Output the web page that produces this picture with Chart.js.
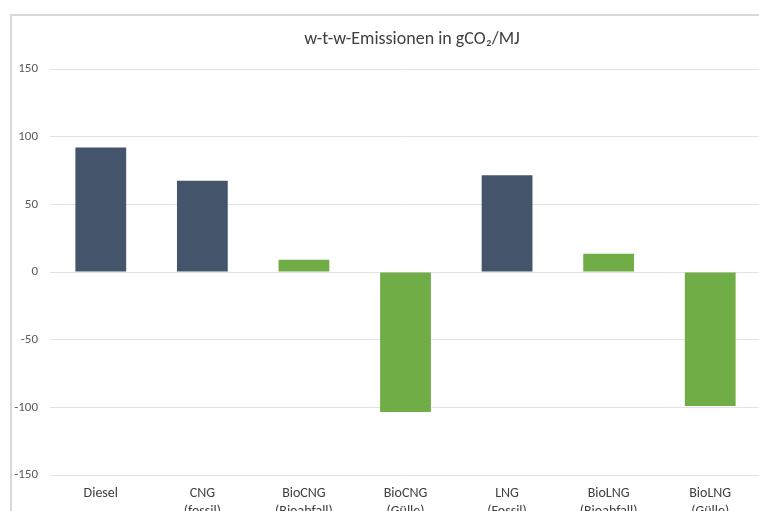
<!DOCTYPE html>
<html>
<head>
<meta charset="utf-8">
<script src="https://cdn.jsdelivr.net/npm/chart.js@4/dist/chart.umd.min.js"></script>
<style>
  html, body { margin: 0; padding: 0; background: #ffffff; overflow: hidden; }
  #wrap { position: absolute; left: 0; top: 0; width: 824px; height: 540px; }
</style>
</head>
<body>
<div id="wrap"><canvas id="c" width="824" height="540"></canvas></div>
<script>
// Well-to-wheel emissions per fuel path, gCO2/MJ
const fuels = ['Diesel', 'CNG', 'BioCNG', 'BioCNG', 'LNG', 'BioLNG', 'BioLNG'];
const sources = ['', '(fossil)', '(Bioabfall)', '(Gülle)', '(Fossil)', '(Bioabfall)', '(Gülle)'];
const origin = ['fossil', 'fossil', 'bio', 'bio', 'fossil', 'bio', 'bio'];
const emissions = [92, 67.5, 9, -103.5, 71.5, 13.5, -99];
const yTicks = [-150, -100, -50, 0, 50, 100, 150];
const titleText = 'w-t-w-Emissionen in gCO\u2082/MJ';

const labels = fuels.map((f, i) => sources[i] ? [f, sources[i]] : f);
const palette = { fossil: '#44546A', bio: '#70AD47' };
const fontFamily = "Carlito, Lato, 'Open Sans', sans-serif";
const titleSize = 18;

// light frame around the chart block
const framePlugin = {
  id: 'frame',
  beforeDraw(chart) {
    const ctx = chart.ctx;
    ctx.save();
    ctx.fillStyle = '#ffffff';
    ctx.fillRect(0, 0, chart.width, chart.height);
    ctx.strokeStyle = '#d9d9d9';
    ctx.lineWidth = 2;
    ctx.strokeRect(11, 15, 900, 700);
    ctx.restore();
  }
};

// title centred on the full canvas width (the title block only reserves space)
const titlePlugin = {
  id: 'centredTitle',
  afterDraw(chart) {
    const tb = chart.titleBlock;
    const ctx = chart.ctx;
    const pad = tb.options.padding;
    const y = tb.top + pad.top + (tb.height - pad.top - pad.bottom) / 2;
    ctx.save();
    ctx.fillStyle = '#404040';
    ctx.font = titleSize + 'px ' + fontFamily;
    ctx.textAlign = 'center';
    ctx.textBaseline = 'middle';
    ctx.fillText(titleText, chart.width / 2, y);
    ctx.restore();
  }
};

new Chart(document.getElementById('c'), {
  type: 'bar',
  data: {
    labels: labels,
    datasets: [{
      data: emissions,
      backgroundColor: origin.map(o => palette[o]),
      borderWidth: 0,
      categoryPercentage: 1,
      barPercentage: 0.5
    }]
  },
  options: {
    responsive: false,
    animation: false,
    devicePixelRatio: 1,
    layout: { padding: { left: 0, right: 63, top: 0, bottom: 10 } },
    plugins: {
      legend: { display: false },
      tooltip: { enabled: false },
      title: {
        display: true,
        text: titleText,
        color: 'rgba(0,0,0,0)',
        font: { family: fontFamily, size: titleSize, weight: 'normal', lineHeight: 1.2 },
        padding: { top: 29, bottom: 18.4 }
      }
    },
    scales: {
      x: {
        grid: { display: false, drawTicks: false },
        border: { display: false },
        ticks: {
          color: '#404040',
          maxRotation: 0,
          autoSkip: false,
          padding: 10,
          font: { family: fontFamily, size: 14, lineHeight: 1.25 }
        }
      },
      y: {
        min: -150,
        max: 150,
        afterBuildTicks(scale) { scale.ticks = yTicks.map(v => ({ value: v })); },
        afterFit(scale) { scale.width = 50; },
        grid: { color: '#e3e3e3', lineWidth: 1, drawTicks: false },
        border: { display: false },
        ticks: {
          color: '#595959',
          padding: 12,
          font: { family: fontFamily, size: 13 }
        }
      }
    }
  },
  plugins: [framePlugin, titlePlugin]
});
</script>
</body>
</html>
